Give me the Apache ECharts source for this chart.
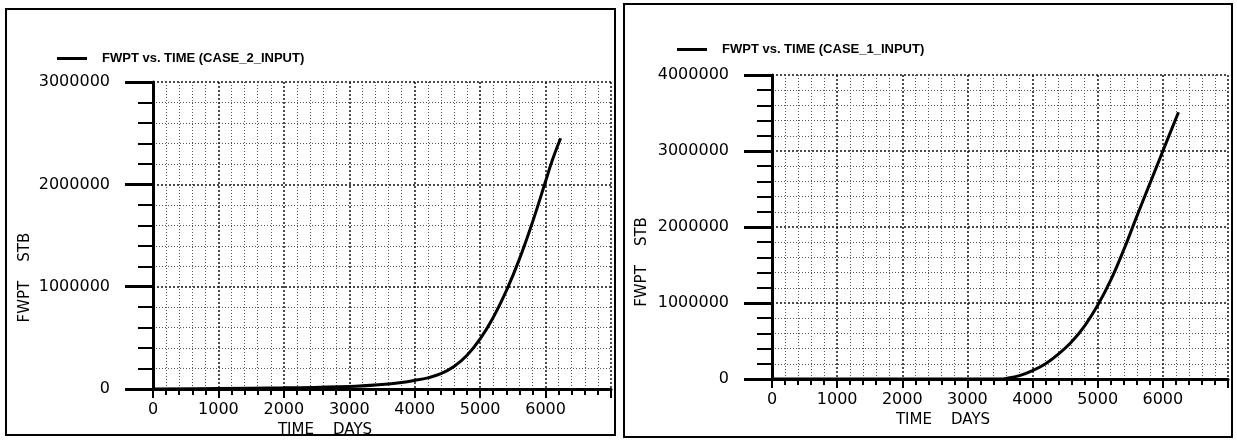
<!DOCTYPE html>
<html>
<head>
<meta charset="utf-8">
<script src="https://cdn.jsdelivr.net/npm/echarts@6/dist/echarts.min.js"></script>
<style>
html,body{margin:0;padding:0;background:#fff;}
#chart{width:1237px;height:443px;}
</style>
</head>
<body>
<div id="chart"></div>
<script>
// ---- data ----
const seriesNameCase2 = 'FWPT vs. TIME (CASE_2_INPUT)';
const seriesNameCase1 = 'FWPT vs. TIME (CASE_1_INPUT)';
const xTickLabels = ['0', '1000', '2000', '3000', '4000', '5000', '6000', ''];
const yTickLabelsCase2 = ['0', '1000000', '2000000', '3000000'];
const yTickLabelsCase1 = ['0', '1000000', '2000000', '3000000', '4000000'];
const xAxisName = 'TIME    DAYS';
const yAxisName = 'FWPT    STB';

const case2Days   = [0, 1000, 2000, 3000, 3500, 3800, 4000, 4200, 4400, 4600, 4800, 5000, 5200, 5400, 5600, 5800, 6000, 6100, 6230];
const case2Values = [0, 5000, 12000, 25000, 45000, 65000, 85000, 110000, 150000, 220000, 330000, 490000, 700000, 960000, 1270000, 1630000, 2030000, 2230000, 2450000];

const case1Days   = [0, 1000, 2000, 3000, 3500, 3600, 3800, 4000, 4200, 4400, 4600, 4800, 5000, 5200, 5400, 5600, 5800, 6000, 6240];
const case1Values = [0, 0, 0, 0, 0, 8000, 45000, 110000, 200000, 330000, 490000, 700000, 970000, 1300000, 1700000, 2140000, 2570000, 3000000, 3510000];

// ---- build ----
const pairs = (xs, ys) => xs.map((x, i) => [x, ys[i]]);
const fmtFrom = (labels, step) => (v) => {
  const i = Math.round(v / step);
  return labels[i] !== undefined ? labels[i] : '';
};

const labelFont = {color: '#000', fontFamily: 'DejaVu Sans', fontSize: 16};

function makeX(gridIndex) {
  return {
    type: 'value', gridIndex: gridIndex, min: 0, max: 7000, interval: 1000,
    axisLine: {show: true, onZero: false, lineStyle: {color: '#000', width: 3}},
    axisTick: {show: true, length: 9, lineStyle: {color: '#000', width: 2}},
    minorTick: {show: true, splitNumber: 5, length: 6, lineStyle: {color: '#000', width: 2}},
    splitLine: {show: true, lineStyle: {color: '#111', width: 1.5, type: [2, 2]}},
    minorSplitLine: {show: true, lineStyle: {color: '#555', width: 1, type: [1, 2]}},
    axisLabel: Object.assign({margin: 13, formatter: fmtFrom(xTickLabels, 1000)}, labelFont),
    name: xAxisName, nameLocation: 'middle', nameGap: 30,
    nameTextStyle: {color: '#000', fontFamily: 'DejaVu Sans', fontSize: 15, padding: [0, 114, 0, 0]}
  };
}
function makeY(gridIndex, max, labels, nameGap, shift) {
  return {
    type: 'value', gridIndex: gridIndex, min: 0, max: max, interval: 1000000,
    axisLine: {show: true, onZero: false, lineStyle: {color: '#000', width: 3}},
    axisTick: {show: true, length: 28, lineStyle: {color: '#000', width: 3}},
    minorTick: {show: true, splitNumber: 5, length: 15, lineStyle: {color: '#000', width: 2}},
    splitLine: {show: true, lineStyle: {color: '#111', width: 1.5, type: [2, 2]}},
    minorSplitLine: {show: true, lineStyle: {color: '#555', width: 1, type: [1, 2]}},
    axisLabel: Object.assign({margin: 43, formatter: fmtFrom(labels, 1000000)}, labelFont),
    name: yAxisName, nameLocation: 'middle', nameGap: nameGap, nameRotate: 90,
    nameTextStyle: {color: '#000', fontFamily: 'DejaVu Sans', fontSize: 15, padding: [0, shift, 0, 0]}
  };
}

const legendBase = {
  orient: 'horizontal', itemWidth: 50, itemHeight: 3, itemGap: 5,
  icon: 'path://M0,0 L100,0 L100,10 L0,10 Z',
  textStyle: {color: '#000', fontFamily: 'Liberation Sans', fontWeight: 'bold', fontSize: 13}
};

const chart = echarts.init(document.getElementById('chart'), null, {renderer: 'canvas'});
chart.setOption({
  animation: false,
  backgroundColor: '#fff',
  graphic: [
    {type: 'rect', shape: {x: 6, y: 9, width: 609, height: 426}, style: {fill: null, stroke: '#000', lineWidth: 2}},
    {type: 'rect', shape: {x: 624, y: 4, width: 608, height: 433}, style: {fill: null, stroke: '#000', lineWidth: 2}}
  ],
  legend: [
    Object.assign({left: 52, top: 47, data: [seriesNameCase2]}, legendBase),
    Object.assign({left: 672, top: 38, data: [seriesNameCase1]}, legendBase)
  ],
  grid: [
    {left: 153, top: 82, right: 626, bottom: 53},
    {left: 772, top: 75, right: 9, bottom: 64}
  ],
  xAxis: [makeX(0), makeX(1)],
  yAxis: [makeY(0, 3000000, yTickLabelsCase2, 120, 84), makeY(1, 4000000, yTickLabelsCase1, 122, 70)],
  series: [
    {name: seriesNameCase2, type: 'line', xAxisIndex: 0, yAxisIndex: 0, symbol: 'none', smooth: 0.4,
     lineStyle: {color: '#000', width: 3}, itemStyle: {color: '#000'}, data: pairs(case2Days, case2Values)},
    {name: seriesNameCase1, type: 'line', xAxisIndex: 1, yAxisIndex: 1, symbol: 'none', smooth: 0.4,
     lineStyle: {color: '#000', width: 3}, itemStyle: {color: '#000'}, data: pairs(case1Days, case1Values)}
  ]
});
</script>
</body>
</html>
